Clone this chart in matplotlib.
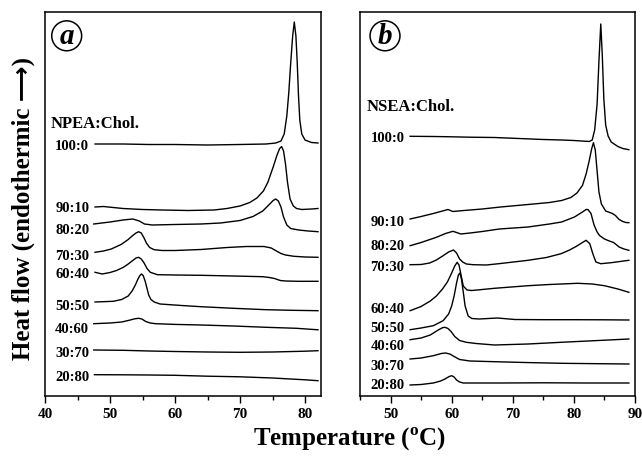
import matplotlib
matplotlib.use('Agg')
import matplotlib.pyplot as plt
from matplotlib.ticker import MultipleLocator

plt.rcParams['font.family'] = ['Liberation Serif', 'DejaVu Sans']
plt.rcParams['font.weight'] = 'bold'
plt.rcParams['mathtext.fontset'] = 'custom'
plt.rcParams['mathtext.rm'] = 'Liberation Serif:bold'

# ratios (lipid : cholesterol), top to bottom
ratios = ['100:0', '90:10', '80:20', '70:30', '60:40', '50:50', '40:60', '30:70', '20:80']

# ---- panel a: NPEA:Chol.  (temperature in C, heat flow in arbitrary units, curves offset)
a100_t = [47.7, 52, 56, 60, 65, 70, 74, 75.5, 76.3, 76.8, 77.2, 77.5, 77.8, 78.1, 78.35, 78.6, 78.8, 79.0, 79.2, 79.5, 80.0, 81.0, 82.0]
a100_h = [252, 252, 251.5, 251.5, 251, 251.5, 252, 253, 255, 262, 280, 303, 333, 360, 374, 360, 334, 300, 276, 262, 256, 253.5, 253]
a90_t = [47.7, 49, 50.5, 52, 55, 58, 62, 66, 68, 70, 71.5, 72.6, 73.6, 74.3, 75.1, 75.7, 76.1, 76.4, 76.7, 77.0, 77.3, 77.7, 78.2, 78.7, 79.5, 81, 82]
a90_h = [189, 189.5, 188.5, 187.5, 186.5, 186, 185.5, 186, 187.5, 190, 193.5, 198, 205, 214, 229, 241, 247.5, 249.5, 245, 232, 214, 197, 190, 187.5, 186.5, 187, 187.5]
a80_t = [47.5, 50, 52, 53.5, 54.5, 55.3, 56.5, 60, 64, 67, 70, 72, 73.5, 74.5, 75.1, 75.5, 75.9, 76.3, 76.7, 77.2, 77.8, 79, 80.5, 82]
a80_h = [172, 174, 176, 177, 175, 172, 171, 171.5, 172, 173, 175.5, 179.5, 185, 191.5, 195.5, 197, 195, 189, 179, 171, 167.5, 166, 165, 164.3]
a70_t = [47.7, 49, 50.2, 51.7, 52.7, 53.5, 54.0, 54.4, 54.8, 55.2, 55.6, 56.1, 56.8, 58, 60, 64, 68, 71, 73.7, 74.8, 75.6, 76.3, 77, 78.3, 80, 82]
a70_h = [143.7, 145, 147, 151.5, 156, 160.5, 163, 164.3, 163, 158.5, 153, 148.5, 146.3, 145.5, 145.5, 146.5, 148.5, 149.5, 149.5, 148, 145, 142.5, 141, 139.7, 139, 138.7]
a60_t = [47.7, 48.8, 50, 51, 52, 52.7, 53.5, 54.0, 54.4, 54.8, 55.2, 55.7, 56.2, 57.3, 60, 64, 69, 73.5, 74.5, 75.3, 76.2, 77, 79, 82]
a60_h = [123.7, 122, 123.5, 125.5, 128.5, 131.5, 135.5, 138, 138.7, 137, 133.5, 127.5, 123.7, 121.3, 121, 120.7, 120, 119.3, 118.5, 117.5, 115.5, 115, 114.7, 114.7]
a50_t = [47.7, 50.5, 51.8, 52.8, 53.4, 53.9, 54.3, 54.6, 54.85, 55.1, 55.4, 55.7, 55.95, 56.3, 56.8, 57.7, 61, 64, 69, 74, 78, 82]
a50_h = [94, 94.7, 96.5, 100, 105, 111, 117, 120.5, 122, 120.5, 115, 107.5, 101, 96.5, 94, 92, 90.5, 89.3, 87.7, 86.3, 85.7, 85.3]
a40_t = [47.5, 50, 51.8, 53, 53.8, 54.4, 54.9, 55.5, 56.2, 57, 60, 64, 69, 74, 78.7, 82]
a40_h = [72.3, 73, 74, 75.8, 77.2, 77.7, 77, 74.5, 73, 72.3, 71.6, 71, 70, 68.7, 67.7, 66.2]
a30_t = [47.5, 52, 56, 60, 65, 70, 75, 80, 82]
a30_h = [46, 45.7, 45, 44.5, 44, 43.7, 44, 44.8, 45.3]
a20_t = [47.6, 52, 56, 60, 65, 70, 75, 80, 82]
a20_h = [21.3, 21.2, 21, 20.7, 19.8, 19.2, 18, 16.2, 15.3]

# ---- panel b: NSEA:Chol.
b100_t = [53.2, 57, 60, 63, 67, 71, 75, 78, 80, 82.5, 83.0, 83.4, 83.8, 84.1, 84.4, 84.65, 84.9, 85.2, 85.6, 86.1, 87.2, 88, 89]
b100_h = [259.7, 259.5, 259.2, 258.8, 258.5, 257.5, 256.5, 256, 255.5, 254.5, 256, 266, 292, 335, 372, 340, 297, 271, 260, 254, 249.5, 247.5, 246.3]
b90_t = [53.2, 55, 57, 58.5, 59.4, 60.2, 62, 65, 68, 72.5, 76, 78, 79.5, 80.5, 81.4, 82.0, 82.5, 82.9, 83.2, 83.5, 83.8, 84.1, 84.5, 85.2, 86.3, 86.8, 87.4, 88.0, 88.5, 89]
b90_h = [177, 179.5, 182.5, 185, 186.5, 184.5, 185.5, 187, 189, 191.5, 193.5, 195.5, 198.5, 203, 210.5, 222, 235, 247, 253.3, 246, 225, 204, 192, 185, 182.5, 180.5, 176.5, 174.5, 173.5, 173.3]
b80_t = [53.2, 55, 57.5, 59, 60.2, 60.8, 61.5, 63, 65, 67.8, 72.5, 76, 78, 80.1, 81.4, 82.0, 82.3, 82.8, 83.3, 83.8, 84.2, 85, 85.8, 86.5, 87.4, 88.2, 89]
b80_h = [150.3, 153.5, 158.7, 162.5, 164.7, 163.5, 162, 163, 164.5, 167, 169, 172, 174, 179, 184, 186.5, 186.5, 182.5, 171, 164, 160.5, 157, 155, 153.5, 149, 147, 145.7]
b70_t = [53.2, 55, 56.4, 57.5, 58.6, 59.5, 60.3, 60.8, 61.3, 61.8, 62.4, 63.5, 65.7, 68, 72.5, 75.5, 77.9, 79.3, 80.5, 81.4, 82.0, 82.6, 83.1, 83.6, 84.4, 86.1, 89]
b70_h = [131.3, 131.5, 133, 136, 140.3, 144, 146, 143, 137, 134, 132, 131.3, 131, 132.5, 135.7, 138.5, 142.3, 146, 150, 153.5, 155.7, 152.3, 142.3, 134, 132.3, 133.3, 135.7]
b60_t = [53.2, 55, 56.5, 57.5, 58.5, 59.3, 60.0, 60.5, 60.9, 61.2, 61.5, 61.9, 62.5, 63.3, 65, 67, 72.5, 76, 80.6, 83, 85, 87.2, 89]
b60_h = [85.3, 89.5, 95, 100, 107, 114, 123, 130, 133.7, 131, 122, 110, 106, 105.5, 106.5, 107.7, 110.3, 111.5, 112.7, 112, 110.3, 107, 103.7]
b50_t = [53.2, 55, 57, 58.6, 59.5, 60.0, 60.4, 60.8, 61.1, 61.35, 61.6, 61.9, 62.2, 62.7, 63.3, 64.5, 66, 67.5, 70.3, 75, 80, 85, 89]
b50_h = [66.3, 68, 70.3, 75.3, 82, 90, 100, 113, 121, 123, 117, 104, 90, 80, 77.5, 77, 77.5, 78, 76.5, 76.3, 76.3, 76.2, 76]
b40_t = [53.2, 55, 56.5, 57.8, 58.5, 58.9, 59.4, 59.9, 60.5, 61.3, 62.4, 64, 67, 72.5, 77.9, 83.3, 89]
b40_h = [56.3, 58, 61, 66, 68.3, 68.7, 67.5, 64.5, 59.5, 55.5, 53.7, 52.5, 51, 52, 53.7, 55.3, 57]
b30_t = [53.2, 55, 57, 58.3, 59.0, 59.7, 60.4, 61.3, 63, 67, 72, 78, 84, 89]
b30_h = [37, 38, 40.3, 42.5, 43, 42, 39.5, 36.5, 35, 34.3, 33.5, 32.7, 32.3, 32]
b20_t = [53.2, 55, 57, 58.2, 58.9, 59.6, 60.0, 60.4, 60.8, 61.3, 61.9, 64, 68, 75, 82, 89]
b20_h = [11, 11.5, 13, 15, 17, 19.5, 20.3, 19, 16, 14, 13, 13, 13, 13.2, 13, 13]

a_curves = [(a100_t, a100_h), (a90_t, a90_h), (a80_t, a80_h), (a70_t, a70_h), (a60_t, a60_h),
            (a50_t, a50_h), (a40_t, a40_h), (a30_t, a30_h), (a20_t, a20_h)]
b_curves = [(b100_t, b100_h), (b90_t, b90_h), (b80_t, b80_h), (b70_t, b70_h), (b60_t, b60_h),
            (b50_t, b50_h), (b40_t, b40_h), (b30_t, b30_h), (b20_t, b20_h)]

# label heights (layout only)
a_label_y = [250.3, 189, 166.3, 141, 122, 90.3, 67.7, 43.7, 19.7]
b_label_y = [258.7, 174.3, 150.3, 129.3, 87.7, 68.7, 50.3, 31, 11]

fig = plt.figure(figsize=(6.42, 4.60), dpi=100)
ax_a = fig.add_axes([45/642, 1-397/460, 276/642, 384/460])
ax_b = fig.add_axes([360/642, 1-397/460, 275/642, 384/460])


def draw_panel(ax, curves, label_y, label_x, title, title_y, title_x, letter, letter_x, xlim, xticks):
    for (t, h) in curves:
        ax.plot(t, h, color='black', lw=1.0)
    for r, y in zip(ratios, label_y):
        ax.text(label_x, y, r, ha='right', va='center', fontsize=10.5, fontweight='bold')
    ax.text(title_x, title_y, title, ha='left', va='center', fontsize=12, fontweight='bold')
    ax.text(letter_x, 0.938, letter, transform=ax.transAxes, ha='center', va='center',
            fontsize=21, fontweight='bold', fontstyle='italic',
            bbox=dict(boxstyle='circle,pad=0.05', fc='white', ec='black', lw=1.1))
    ax.set_xlim(*xlim)
    ax.set_ylim(0, 384)
    ax.set_xticks(xticks)
    ax.xaxis.set_minor_locator(MultipleLocator(5))
    ax.set_yticks([])
    ax.tick_params(axis='x', which='major', direction='out', length=5, width=1, labelsize=11, pad=3)
    ax.tick_params(axis='x', which='minor', direction='out', length=3, width=1)
    for lab in ax.get_xticklabels():
        lab.set_fontweight('bold')
    for s in ax.spines.values():
        s.set_linewidth(1.1)


draw_panel(ax_a, a_curves, a_label_y, 46.8, 'NPEA:Chol.', 273, 40.9, 'a', 0.0786,
           (40, 82.46), [40, 50, 60, 70, 80])
draw_panel(ax_b, b_curves, b_label_y, 52.3, 'NSEA:Chol.', 290.3, 46.1, 'b', 0.0909,
           (45, 90), [50, 60, 70, 80, 90])

fig.text(350/642, 1-439/460, 'Temperature ($^{\\mathrm{o}}$C)', ha='center', va='center',
         fontsize=18, fontweight='bold')
fig.text(23/642, 1-208/460, 'Heat flow (endothermic \u27f6)', rotation=90, ha='center', va='center',
         fontsize=18, fontweight='bold')

fig.savefig('out.png', dpi=100)
